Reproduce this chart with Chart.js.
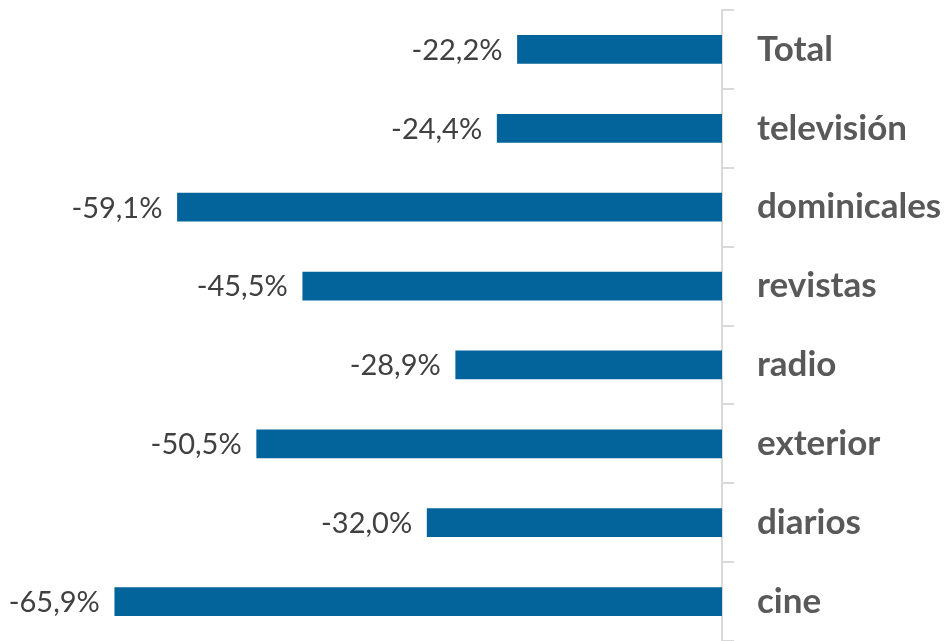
<!DOCTYPE html>
<html>
<head>
<meta charset="utf-8">
<script src="https://cdn.jsdelivr.net/npm/chart.js@4/dist/chart.umd.min.js"></script>
<style>
  html, body { margin: 0; padding: 0; background: #fff; }
  #wrap { width: 945px; height: 641px; }
</style>
</head>
<body>
<div id="wrap"><canvas id="chart"></canvas></div>
<script>
'use strict';
const categories = ['Total', 'televisión', 'dominicales', 'revistas', 'radio', 'exterior', 'diarios', 'cine'];
const changes = [-22.2, -24.4, -59.1, -45.5, -28.9, -50.5, -32.0, -65.9];

const fmt = v => v.toFixed(1).replace('.', ',') + '%';

// value labels to the left of each bar
const barLabels = {
  id: 'barLabels',
  afterDatasetsDraw(chart) {
    const ctx = chart.ctx;
    const meta = chart.getDatasetMeta(0);
    ctx.save();
    ctx.font = '29px Lato';
    ctx.fillStyle = '#404040';
    ctx.textAlign = 'right';
    ctx.textBaseline = 'middle';
    meta.data.forEach((bar, i) => {
      ctx.fillText(fmt(changes[i]), bar.x - 15, bar.y + 1);
    });
    ctx.restore();
  }
};

new Chart(document.getElementById('chart'), {
  type: 'bar',
  data: {
    labels: categories,
    datasets: [{ data: changes, backgroundColor: '#02649A', barThickness: 28 }]
  },
  options: {
    indexAxis: 'y',
    responsive: true, maintainAspectRatio: false, animation: false,
    layout: { padding: { left: 77, top: 10, right: 0, bottom: 0 } },
    plugins: { legend: { display: false }, tooltip: { enabled: false } },
    scales: {
      x: { type: 'linear', min: -70, max: 0, display: false },
      y: {
        position: 'right',
        afterFit: s => { s.width = 223; s.paddingTop = 0; s.paddingBottom = 0; },
        grid: { drawOnChartArea: false, offset: true, tickLength: 12, color: '#d9d9d9', lineWidth: 2 },
        border: { color: '#d9d9d9', width: 2 },
        ticks: { padding: 23, color: '#595959', font: { family: 'Lato', size: 35, weight: 'bold' } }
      }
    }
  },
  plugins: [barLabels]
});
</script>
</body>
</html>
